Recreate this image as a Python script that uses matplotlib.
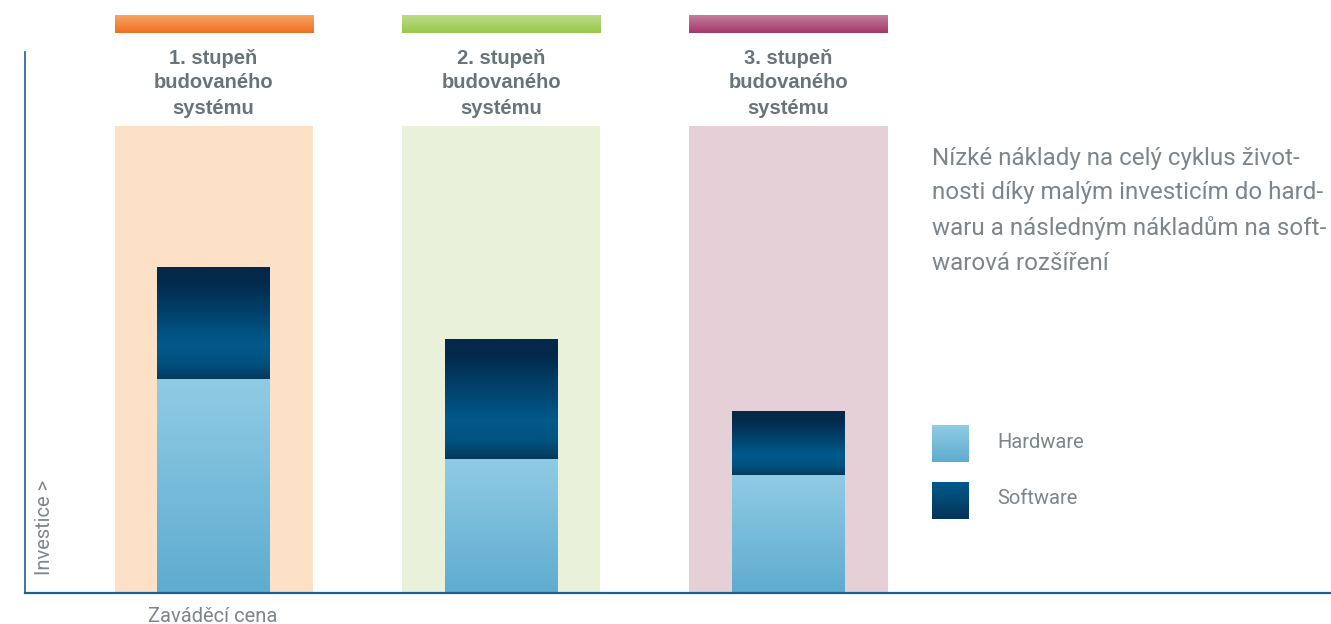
import matplotlib
matplotlib.use("Agg")
import matplotlib.pyplot as plt
import numpy as np
from matplotlib.colors import LinearSegmentedColormap

# --- data -------------------------------------------------------------
stages = ["1. stupeň\nbudovaného\nsystému",
          "2. stupeň\nbudovaného\nsystému",
          "3. stupeň\nbudovaného\nsystému"]
hardware = [214, 134, 118]
software = [112, 120, 64]
series_labels = ["Hardware", "Software"]
y_label = "Investice >"
x_label = "Zaváděcí cena"
note_lines = ["Nízké náklady na celý cyklus život-",
              "nosti díky malým investicím do hard-",
              "waru a následným nákladům na soft-",
              "warová rozšíření"]

# --- style ------------------------------------------------------------
W, H = 1331, 624
panel_colors = ["#fde1c6", "#eaf1da", "#e5d0d8"]
cap_stops = [["#f8a564", "#ef6f1f"], ["#bcdb85", "#98c84c"], ["#c47d9c", "#a23869"]]
hw_stops = ["#90cbe4", "#5eacd0"]
sw_stops = [(0.0, "#03284a"), (0.12, "#03284a"), (0.68, "#005a8b"),
            (0.86, "#00527f"), (1.0, "#06395c")]
leg_sw_stops = ["#005a8b", "#053458"]
axis_color = "#1c5f96"
grey_dark = "#69737a"
grey_text = "#7d858b"


def gradient(ax, x0, x1, y0, y1, stops, z):
    cmap = LinearSegmentedColormap.from_list("g", stops)
    vals = np.linspace(0, 1, 256).reshape(-1, 1)
    ax.imshow(vals, cmap=cmap, extent=(x0, x1, y0, y1), origin="upper",
              aspect="auto", zorder=z, interpolation="bilinear")


fig = plt.figure(figsize=(W / 100, H / 100), dpi=100)
ax = fig.add_axes([25 / W, (H - 593) / H, (W - 25) / W, 593 / H])
ax.set_xlim(-0.656, 3.887)
ax.set_ylim(0, 593)

x = np.arange(len(stages))
bar_w = 0.393
panel_w = 0.689

panels = ax.bar(x, 467, width=panel_w, color=panel_colors, zorder=0)
caps = ax.bar(x, 18, bottom=560, width=panel_w, color=[s[1] for s in cap_stops], zorder=1)
for rect, stops in zip(caps, cap_stops):
    gradient(ax, rect.get_x(), rect.get_x() + rect.get_width(),
             rect.get_y(), rect.get_y() + rect.get_height(), stops, 2)

hw_bars = ax.bar(x, hardware, width=bar_w, color=hw_stops[1], zorder=3)
sw_bars = ax.bar(x, software, bottom=hardware, width=bar_w, color=sw_stops[2][1], zorder=3)
for rect in hw_bars:
    gradient(ax, rect.get_x(), rect.get_x() + rect.get_width(),
             rect.get_y(), rect.get_y() + rect.get_height(), hw_stops, 4)
for rect in sw_bars:
    gradient(ax, rect.get_x(), rect.get_x() + rect.get_width(),
             rect.get_y(), rect.get_y() + rect.get_height(), sw_stops, 4)

for xi, label in zip(x, stages):
    ax.text(xi, 510, label, ha="center", va="center", fontsize=14.5,
            fontweight="bold", color=grey_dark, linespacing=1.4,
            family=["Liberation Sans", "DejaVu Sans"], zorder=5)

ax.set_xlim(-0.656, 3.887)
ax.set_ylim(0, 593)
ax.set_xticks([])
ax.set_yticks([])
for side in ["top", "right"]:
    ax.spines[side].set_visible(False)
ax.spines["left"].set_bounds(0, 541)
ax.spines["left"].set_color(axis_color)
ax.spines["left"].set_linewidth(1.2)
ax.spines["bottom"].set_color(axis_color)
ax.spines["bottom"].set_linewidth(1.6)
ax.spines["left"].set_zorder(6)
ax.spines["bottom"].set_zorder(6)
ax.patch.set_alpha(0)

# overlay for legend and notes (pixel coordinates)
ov = fig.add_axes([0, 0, 1, 1])
ov.set_xlim(0, W)
ov.set_ylim(H, 0)
ov.axis("off")
ov.patch.set_alpha(0)

gradient(ov, 932, 969, 462, 425, hw_stops, 2)
gradient(ov, 932, 969, 519, 482, leg_sw_stops, 2)
ov.set_xlim(0, W)
ov.set_ylim(H, 0)
for yy, lab in zip([443, 499], series_labels):
    ov.text(997, yy, lab, ha="left", va="center", fontsize=14.5,
            color=grey_text, family="Roboto")

for i, line in enumerate(note_lines):
    ov.text(932, 158 + 35 * i, line, ha="left", va="center", fontsize=17.4,
            color=grey_text, family="Roboto")

ov.text(45, 527, y_label, rotation=90, ha="center", va="center",
        fontsize=14.5, color=grey_text, family="Roboto")
ov.text(213, 616, x_label, ha="center", va="center", fontsize=14.5,
        color=grey_text, family="Roboto")

fig.savefig("out.png", dpi=100)
